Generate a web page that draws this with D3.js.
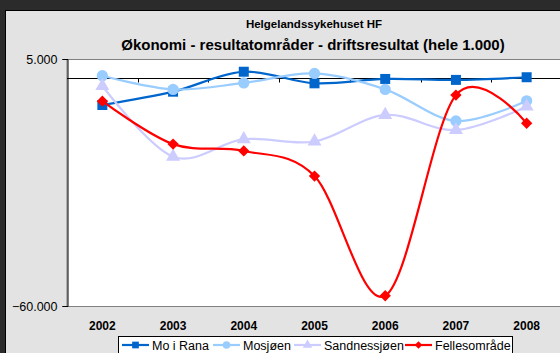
<!DOCTYPE html>
<html>
<head>
<meta charset="utf-8">
<script src="https://cdn.jsdelivr.net/npm/d3@7"></script>
<style>
  html, body { margin: 0; padding: 0; background: #2b2b2b; }
  svg { display: block; font-family: "Liberation Sans", Arial, sans-serif; }
</style>
</head>
<body>
<svg id="chart" width="560" height="353"></svg>
<script>
// Years on the category axis
const years = ["2002", "2003", "2004", "2005", "2006", "2007", "2008"];

// Operating result per area (NOK 1.000)
const moIRana      = [-7100, -3600, 1650, -1400, -250, -500, 200];
const mosjoen      = [600, -3000, -1300, 1200, -3000, -11300, -6000];
const sandnessjoen = [-2100, -20700, -16100, -16700, -9700, -13700, -7500];
const fellesomrade = [-6100, -17400, -19200, -25800, -57300, -4500, -11900];

const seriesNames = ["Mo i Rana", "Mosjøen", "Sandnessjøen", "Fellesområde"];
const yTicks = [5000, -60000];

const series = [
  { name: seriesNames[0], values: moIRana,      color: "#0066CC", symbol: d3.symbolSquare,   size: 100, rot: 0 },
  { name: seriesNames[1], values: mosjoen,      color: "#99CCFF", symbol: d3.symbolCircle,   size: 100, rot: 0 },
  { name: seriesNames[2], values: sandnessjoen, color: "#CCCCFF", symbol: d3.symbolTriangle, size: 85,  rot: 0 },
  { name: seriesNames[3], values: fellesomrade, color: "#FF0000", symbol: d3.symbolSquare,   size: 64,  rot: 45 }
];

const svg = d3.select("#chart");
const fmt = v => d3.format(",")(v).replace(/,/g, ".");

// Chart area background
svg.append("rect").attr("x", 5.5).attr("y", 10.5).attr("width", 600).attr("height", 400)
  .attr("fill", "#e3e3e3").attr("stroke", "#000").attr("stroke-width", 1);

const plot = { left: 67, top: 59, right: 562, bottom: 306 };

const x = d3.scaleBand().domain(years).range([plot.left, plot.right]).padding(0);
const y = d3.scaleLinear().domain([-60000, 5000]).range([plot.bottom, plot.top]);

// Plot area
svg.append("rect").attr("x", plot.left).attr("y", plot.top + 0.5)
  .attr("width", plot.right - plot.left).attr("height", plot.bottom - plot.top)
  .attr("fill", "#fff").attr("stroke", "#808080").attr("stroke-width", 1);

// Titles
svg.append("text").attr("x", 314).attr("y", 28).attr("text-anchor", "middle")
  .attr("font-size", 11.5).attr("font-weight", "bold").text("Helgelandssykehuset HF");
svg.append("text").attr("x", 313).attr("y", 50).attr("text-anchor", "middle")
  .attr("font-size", 15).attr("font-weight", "bold")
  .text("Økonomi - resultatområder - driftsresultat (hele 1.000)");

// Value axis
const yAxis = d3.axisLeft(y).tickValues(yTicks).tickFormat(fmt).tickSize(5).tickPadding(5);
const gy = svg.append("g").attr("transform", `translate(${plot.left + 0.5},0)`).call(yAxis);
gy.select(".domain").attr("stroke", "#000");
gy.selectAll(".tick line").attr("stroke", "#000");
gy.selectAll(".tick text").attr("font-size", 12.5).attr("fill", "#000")
  .attr("font-family", "Liberation Sans, Arial, sans-serif");

// Category axis crossing at zero
const gx = svg.append("g").attr("transform", `translate(0,${Math.round(y(0)) + 0.5})`);
gx.append("line").attr("x1", plot.left).attr("x2", plot.right).attr("stroke", "#000");
gx.selectAll("line.tk").data(years.slice(1)).join("line").attr("class", "tk")
  .attr("x1", d => Math.round(x(d)) + 0.5).attr("x2", d => Math.round(x(d)) + 0.5)
  .attr("y1", 0).attr("y2", 4).attr("stroke", "#000");

// Category labels below the plot
svg.append("g").selectAll("text").data(years).join("text")
  .attr("x", d => x(d) + x.bandwidth() / 2).attr("y", 330)
  .attr("text-anchor", "middle").attr("font-size", 12).attr("font-weight", "bold")
  .text(d => d);

// Smoothed lines and markers
const line = d3.line()
  .x((d, i) => x(years[i]) + x.bandwidth() / 2)
  .y(d => y(d))
  .curve(d3.curveCardinal.tension(0));

series.forEach(s => {
  const g = svg.append("g");
  g.append("path").attr("d", line(s.values)).attr("fill", "none")
    .attr("stroke", s.color).attr("stroke-width", 2.2);
  g.selectAll("path.m").data(s.values).join("path").attr("class", "m")
    .attr("d", d3.symbol().type(s.symbol).size(s.size))
    .attr("transform", (d, i) => `translate(${x(years[i]) + x.bandwidth() / 2},${y(d)}) rotate(${s.rot})`)
    .attr("fill", s.color);
});

// Legend
const legend = svg.append("g");
legend.append("rect").attr("x", 118.5).attr("y", 336.5).attr("width", 394).attr("height", 30)
  .attr("fill", "#fff").attr("stroke", "#000");
const legX = [122, 213, 294, 405];
series.forEach((s, i) => {
  const g = legend.append("g").attr("transform", `translate(${legX[i]},345)`);
  g.append("line").attr("x1", 0).attr("x2", 27).attr("stroke", s.color).attr("stroke-width", 2.2);
  g.append("path").attr("d", d3.symbol().type(s.symbol).size(s.size * 0.45))
    .attr("transform", `translate(13.5,0) rotate(${s.rot})`).attr("fill", s.color);
  g.append("text").attr("x", 30).attr("y", 4.5).attr("font-size", 12.5).text(s.name);
});
</script>
</body>
</html>
